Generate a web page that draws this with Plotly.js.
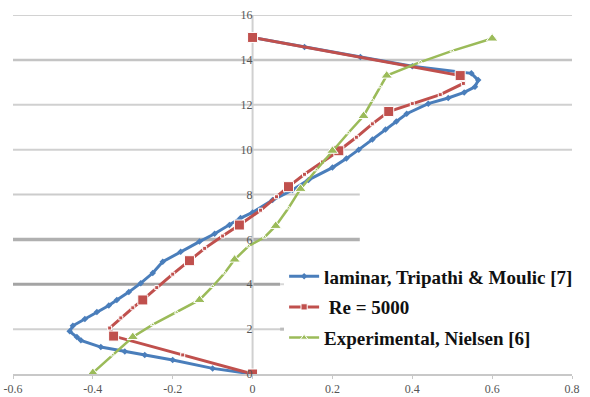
<!DOCTYPE html>
<html>
<head>
<meta charset="utf-8">
<script src="https://cdn.plot.ly/plotly-3.0.1.min.js"></script>
<style>html,body{margin:0;padding:0;background:#fff;}#chart{width:590px;height:397px;}</style>
</head>
<body>
<div id="chart"></div>
<script>
// Series names
const seriesNames = ['laminar, Tripathi & Moulic [7]', ' Re = 5000', 'Experimental, Nielsen [6]'];

// Laminar, Tripathi & Moulic
const laminarX = [0, -0.10, -0.20, -0.27, -0.32, -0.38, -0.43, -0.44, -0.458, -0.45, -0.42, -0.39, -0.36, -0.34, -0.31, -0.28, -0.25, -0.225, -0.18, -0.133, -0.095, -0.058, -0.03, 0.0, 0.05, 0.10, 0.14, 0.20, 0.235, 0.266, 0.30, 0.333, 0.36, 0.386, 0.44, 0.49, 0.53, 0.557, 0.565, 0.548, 0.40, 0.27, 0.13, 0];
const laminarY = [0, 0.25, 0.62, 0.85, 1.0, 1.2, 1.5, 1.65, 1.9, 2.15, 2.45, 2.76, 3.05, 3.3, 3.65, 4.05, 4.5, 5.0, 5.45, 5.9, 6.25, 6.64, 6.95, 7.2, 7.75, 8.2, 8.65, 9.2, 9.6, 10.0, 10.45, 10.9, 11.25, 11.6, 12.05, 12.3, 12.55, 12.8, 13.1, 13.4, 13.72, 14.13, 14.57, 15];

// Re = 5000
const reX = [0, -0.175, -0.348, -0.358, -0.33, -0.30, -0.275, -0.24, -0.20, -0.158, -0.12, -0.075, -0.033, 0.02, 0.06, 0.09, 0.13, 0.175, 0.216, 0.26, 0.30, 0.341, 0.40, 0.47, 0.528, 0.52, 0];
const reY = [0, 0.85, 1.69, 2.05, 2.5, 2.95, 3.3, 3.85, 4.45, 5.05, 5.6, 6.15, 6.64, 7.3, 7.9, 8.35, 8.9, 9.45, 9.95, 10.55, 11.15, 11.7, 12.05, 12.45, 12.95, 13.3, 15];
const reMain = [1, 0, 1, 0, 0, 0, 1, 0, 0, 1, 0, 0, 1, 0, 0, 1, 0, 0, 1, 0, 0, 1, 0, 0, 0, 1, 1];

// Experimental, Nielsen
const expX = [-0.40, -0.35, -0.30, -0.25, -0.19, -0.133, -0.10, -0.07, -0.045, -0.01, 0.03, 0.058, 0.09, 0.12, 0.16, 0.20, 0.24, 0.278, 0.30, 0.32, 0.336, 0.42, 0.50, 0.60];
const expY = [0.05, 0.85, 1.65, 2.2, 2.75, 3.3, 3.9, 4.5, 5.1, 5.7, 6.1, 6.6, 7.4, 8.25, 9.1, 9.95, 10.75, 11.5, 12.2, 12.8, 13.3, 13.9, 14.4, 14.95];
const expMain = [1, 0, 1, 0, 0, 1, 0, 0, 1, 0, 0, 1, 0, 1, 0, 1, 0, 1, 0, 0, 1, 0, 0, 1];

// Axis ticks
const xTickVals = [-0.6, -0.4, -0.2, 0, 0.2, 0.4, 0.6, 0.8];
const xTickText = ['-0.6', '-0.4', '-0.2', '0', '0.2', '0.4', '0.6', '0.8'];
const yTickVals = [0, 2, 4, 6, 8, 10, 12, 14, 16];
const yTickText = ['0', '2', '4', '6', '8', '10', '12', '14', '16'];

const blue = '#4a7ebb', red = '#c0504d', green = '#9bbb59';
const bold = s => '<b>' + s + '</b>';

const traces = [
  {x: laminarX, y: laminarY, name: bold(seriesNames[0]), type: 'scatter', mode: 'lines+markers',
   line: {color: blue, width: 3}, marker: {symbol: 'diamond', size: 5, color: blue, opacity: 1},
   legendgroup: 'a'},
  {x: reX, y: reY, name: bold(seriesNames[1]), type: 'scatter', mode: 'lines+markers',
   line: {color: red, width: 3}, marker: {symbol: 'square', size: reMain.map(m => m ? 10 : 4), color: red, opacity: 1},
   legendgroup: 'b'},
  {x: expX, y: expY, name: bold(seriesNames[2]), type: 'scatter', mode: 'lines+markers',
   line: {color: green, width: 2.5}, marker: {symbol: 'triangle-up', size: expMain.map(m => m ? 10 : 4), color: green, opacity: 1},
   legendgroup: 'c'}
];

function hline(y, x0, x1, color, width) {
  return {type: 'line', xref: 'x', yref: 'y', x0: x0, x1: x1, y0: y, y1: y, line: {color: color, width: width}, layer: 'below'};
}
const shapes = [
  hline(16, -0.6, 0.8, '#d2d2d2', 2),
  hline(14, -0.6, 0.8, '#c4c4c4', 2.5),
  hline(12, -0.6, 0.8, '#d0d0d0', 2),
  hline(10, -0.6, 0.8, '#d0d0d0', 2),
  hline(8, -0.6, 0.2685, '#cccccc', 2),
  hline(6, -0.6, 0.2685, '#b0b0b0', 3.5),
  hline(4, -0.6, 0.069, '#a4a4a4', 3),
  hline(4, 0.069, 0.146, '#d8d8d8', 2),
  hline(2, -0.6, 0.146, '#d0d0d0', 2),
  hline(2, 0.069, 0.146, '#bcbcbc', 3),
  {type: 'line', xref: 'x', yref: 'y', x0: 0, x1: 0, y0: 0, y1: 16, line: {color: '#d0d0d0', width: 2}, layer: 'below'}
];

const serif = "'Times New Roman', 'Liberation Serif', serif";
const tickFont = {family: serif, size: 12, color: '#555555'};

const layout = {
  width: 590, height: 397,
  margin: {l: 13, r: 16, t: 15, b: 23, pad: 0},
  paper_bgcolor: '#ffffff', plot_bgcolor: '#ffffff',
  showlegend: true,
  legend: {
    x: 0.485, y: 0.325, xanchor: 'left', yanchor: 'top',
    bgcolor: '#ffffff', borderwidth: 0,
    font: {family: serif, size: 19, color: '#111111'},
    traceorder: 'grouped', tracegroupgap: 3, itemwidth: 30
  },
  xaxis: {
    range: [-0.6, 0.8], tickvals: xTickVals, ticktext: xTickText,
    showgrid: false, zeroline: false, showline: true, linecolor: '#c8c8c8', linewidth: 2,
    ticks: 'outside', ticklen: 3, tickcolor: '#c8c8c8', tickfont: tickFont, fixedrange: true
  },
  yaxis: {
    range: [0, 16], tickvals: yTickVals, ticktext: yTickText,
    anchor: 'free', position: 0.6 / 1.4,
    showgrid: false, zeroline: false, showline: false,
    ticks: '', tickfont: tickFont, fixedrange: true
  },
  shapes: shapes
};

Plotly.newPlot('chart', traces, layout, {staticPlot: true, displayModeBar: false});
</script>
</body>
</html>
